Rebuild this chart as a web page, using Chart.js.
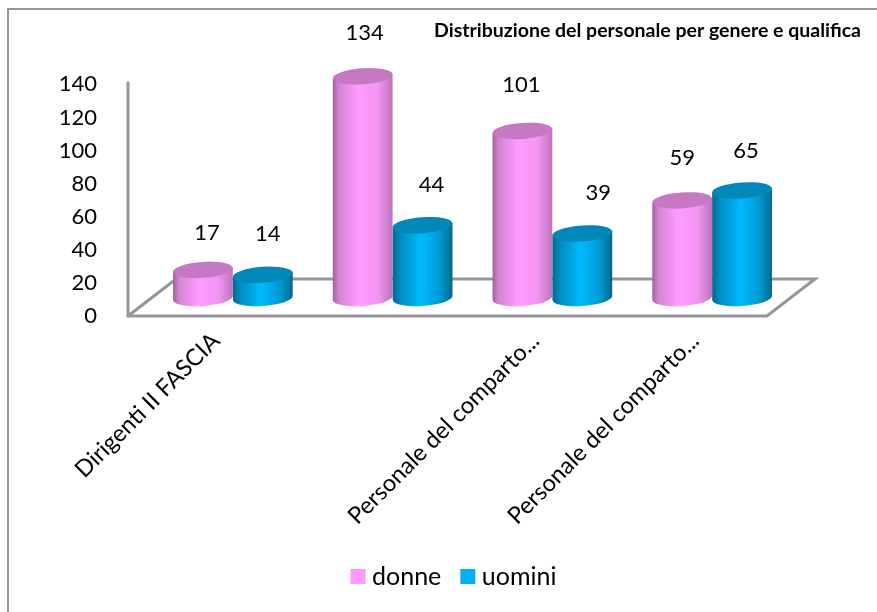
<!DOCTYPE html>
<html><head><meta charset="utf-8">
<style>html,body{margin:0;padding:0;background:#fff}canvas{display:block}</style>
<script src="https://cdn.jsdelivr.net/npm/chart.js@4"></script>
</head><body><canvas id="c" width="877" height="612"></canvas>
<script>
const categories = ["Dirigenti II FASCIA", "", "Personale del comparto...", "Personale del comparto..."];
const donne = [17, 134, 101, 59];
const uomini = [14, 44, 39, 65];
const yTicks = [0, 20, 40, 60, 80, 100, 120, 140];
const titleText = "Distribuzione del personale per genere e qualifica";

const FONT = "Lato";
const GREY = "#969696";
const DEPTH = {dx: 48, dy: -37};
const BAR_SHIFT = {dx: 25, dy: -18};
const LABEL_NUDGE = [
  [[4,-37],[2,-43],[-1,-46],[0,-42]],
  [[5,-41],[9,-40],[16,-41],[4,-40]]
];
const STYLE = [
  {stops:[[0,"#a060a0"],[.1,"#d085d0"],[.42,"#ff9bff"],[.75,"#f495f4"],[1,"#bb74bb"]], top:"#c678c2"},
  {stops:[[0,"#00688e"],[.14,"#008fc4"],[.48,"#00baff"],[.8,"#0098d0"],[1,"#00678c"]], top:"#0088b8"}
];

function drawCylinders(chart, index){
  const c = chart.ctx, st = STYLE[index], rot = -0.07, ry = 8;
  chart.getDatasetMeta(index).data.forEach(el => {
    const p = el.getProps(["x","y","base","width"], true);
    const rx = p.width/2 + 3, cx = p.x;
    const ex = rx*Math.cos(rot), ey = rx*Math.sin(rot);
    const g = c.createLinearGradient(cx-rx,0,cx+rx,0);
    st.stops.forEach(s => g.addColorStop(s[0], s[1]));
    c.fillStyle = g;
    c.beginPath();
    c.moveTo(cx+ex, p.y+ey);
    c.lineTo(cx+ex, p.base+ey);
    c.ellipse(cx, p.base, rx, ry, rot, 0, Math.PI);
    c.lineTo(cx-ex, p.y-ey);
    c.closePath();
    c.fill();
    c.fillStyle = st.top;
    c.beginPath();
    c.ellipse(cx, p.y, rx, ry, rot, 0, Math.PI*2);
    c.fill();
  });
}

const cylinderPlugin = {
  id: "cylinder",
  beforeDraw(chart){
    const c = chart.ctx;
    c.save();
    c.fillStyle = "#fff"; c.fillRect(0,0,chart.width,chart.height);
    c.strokeStyle = GREY; c.lineWidth = 2;
    c.beginPath(); c.moveTo(8,chart.height); c.lineTo(8,9); c.lineTo(chart.width,9); c.stroke();
    c.restore();
  },
  beforeDatasetsDraw(chart){
    const c = chart.ctx, x = chart.scales.x, y = chart.scales.y;
    const l = x.left, r = x.right, b = y.bottom;
    c.save();
    c.strokeStyle = GREY; c.lineWidth = 3; c.lineJoin = "miter";
    c.beginPath();
    c.moveTo(l, y.top-3); c.lineTo(l, b); c.lineTo(r, b);
    c.lineTo(r+DEPTH.dx, b+DEPTH.dy); c.lineTo(l+DEPTH.dx, b+DEPTH.dy); c.lineTo(l, b);
    c.stroke();
    c.restore();
    c.save();
    c.translate(BAR_SHIFT.dx, BAR_SHIFT.dy);
  },
  afterDatasetsDraw(chart){
    const c = chart.ctx;
    drawCylinders(chart, 0);
    drawCylinders(chart, 1);
    c.restore();
    c.save();
    c.font = "22px " + FONT;
    c.fillStyle = "#000"; c.textAlign = "center"; c.textBaseline = "middle";
    chart.data.datasets.forEach((ds, i) => {
      chart.getDatasetMeta(i).data.forEach((el, j) => {
        const p = el.getProps(["x","y"], true);
        const n = LABEL_NUDGE[i][j];
        c.fillText(String(ds.data[j]), p.x + BAR_SHIFT.dx + n[0], p.y + BAR_SHIFT.dy + n[1]);
      });
    });
    c.restore();
  }
};

new Chart(document.getElementById("c"), {
  type: "bar",
  data: {
    labels: categories,
    datasets: [
      {label: "donne", data: donne, backgroundColor: "#FF99FF", clip: false},
      {label: "uomini", data: uomini, backgroundColor: "#00B0F0", clip: false}
    ]
  },
  options: {
    responsive: false,
    animation: false,
    devicePixelRatio: 1,
    layout: {padding: {left: 52, right: 16, top: 19, bottom: 13}},
    datasets: {bar: {categoryPercentage: 0.75, barPercentage: 0.9}},
    plugins: {
      tooltip: {enabled: false},
      title: {
        display: true, text: titleText, align: "end", color: "#000",
        font: {family: FONT, size: 19.5, weight: "bold"},
        padding: {top: 0, bottom: 42}
      },
      legend: {
        display: true, position: "bottom",
        labels: {usePointStyle: true, pointStyle: "rect", boxWidth: 3, boxHeight: 15, padding: 25, color: "#000", font: {family: FONT, size: 25}}
      }
    },
    scales: {
      x: {
        grid: {display: false}, border: {display: false},
        ticks: {autoSkip: false, minRotation: 45, maxRotation: 45, color: "#000", padding: 3, labelOffset: 8, font: {family: FONT, size: 23.5}},
        afterFit(s){ s.height = 223; }
      },
      y: {
        min: 0, max: 140,
        grid: {display: false}, border: {display: false},
        afterBuildTicks(s){ s.ticks = yTicks.map(v => ({value: v})); },
        ticks: {color: "#000", padding: 23, font: {family: FONT, size: 22}},
        afterFit(s){ s.width = 76; }
      },
      yr: {
        position: "right", display: true,
        grid: {display: false}, border: {display: false},
        ticks: {display: false},
        afterFit(s){ s.width = 94; }
      }
    }
  },
  plugins: [cylinderPlugin]
});
</script></body></html>
